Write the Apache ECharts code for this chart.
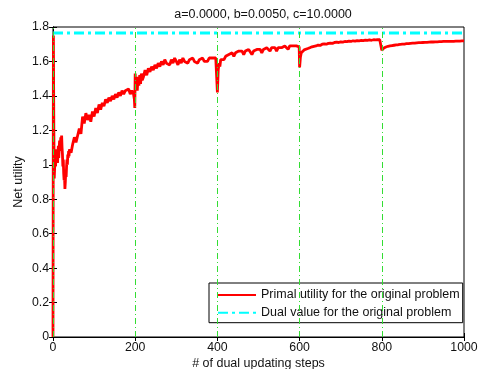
<!DOCTYPE html>
<html>
<head>
<meta charset="utf-8">
<script src="https://cdn.jsdelivr.net/npm/echarts@6/dist/echarts.min.js"></script>
<style>
  html, body { margin: 0; padding: 0; background: #fff; }
  #main { width: 479px; height: 369px; }
</style>
</head>
<body>
<div id="main"></div>
<script>
const titleText = "a=0.0000, b=0.0050, c=10.0000";
const xName = "# of dual updating steps";
const yName = "Net utility";
const primalName = "Primal utility for the original problem";
const dualName = "Dual value for the original problem";

// restart points of the dual update (green dash-dot lines)
const restartSteps = [0, 200, 400, 600, 800];
const dualValue = 1.765;
const dualSteps = [0, 1000];

// primal utility
const steps = [
  // 0 - 40
  0, 1, 2, 3, 4, 5, 6, 7, 8, 9,
  10, 11, 12, 13, 14, 15, 16, 17, 18, 19,
  20, 21, 22, 23, 24, 25, 26, 27, 28, 29,
  30, 31, 32, 33, 34, 35, 36, 37, 38, 39,
  40,
  // 44 - 217
  44, 48, 52, 56, 60, 64, 68, 72, 76, 80,
  84, 88, 92, 96, 100, 104, 108, 112, 116, 120,
  124, 128, 132, 136, 140, 144, 148, 152, 156, 160,
  164, 168, 172, 176, 180, 184, 188, 192, 196,
  198, 199, 200, 201, 203, 205, 207, 209, 211, 213, 215, 217,
  // 220 - 412
  220, 224, 228, 232, 236, 240, 244, 248, 252, 256,
  260, 264, 268, 272, 276, 280, 284, 288, 292, 296,
  300, 304, 308, 312, 316, 320, 324, 328, 332, 336,
  340, 344, 348, 352, 356, 360, 364, 368, 372, 376,
  380, 384, 388, 392, 396,
  399, 400, 402, 404, 406, 408, 410, 412,
  // 416 - 615
  416, 420, 424, 428, 432, 436, 440, 444, 448, 452,
  456, 460, 464, 468, 472, 476, 480, 484, 488, 492,
  496, 500, 504, 508, 512, 516, 520, 524, 528, 532,
  536, 540, 544, 548, 552, 556, 560, 564, 568, 572,
  576, 580, 584, 588, 592, 596,
  599, 600, 602, 604, 607, 611, 615,
  // 620 - 810
  620, 625, 630, 635, 640, 645, 650, 655, 660, 665,
  670, 675, 680, 685, 690, 695, 700, 705, 710, 715,
  720, 725, 730, 735, 740, 745, 750, 755, 760, 765,
  770, 775, 780, 785, 790, 795,
  799, 800, 802, 805, 810,
  // 815 - 1000
  815, 820, 825, 830, 835, 840, 845, 850, 855, 860,
  865, 870, 875, 880, 885, 890, 895, 900, 905, 910,
  915, 920, 925, 930, 935, 940, 945, 950, 955, 960,
  965, 970, 975, 980, 985, 990, 995, 1000
];

const primal = [
  // 0 - 40
  0, 1.75, 1.22, 0.92, 0.98, 1.05, 0.99, 1.03, 1.09, 1.02,
  1.07, 1.01, 1.06, 1.11, 1.04, 1.09, 1.14, 1.08, 1.12, 1.16,
  1.13, 1.17, 1.10, 1.06, 0.99, 1.03, 0.95, 0.91, 0.94, 0.86,
  0.90, 0.96, 0.93, 0.99, 1.03, 1.00, 1.06, 1.04, 1.08, 1.05,
  1.09,
  // 44 - 217
  1.07, 1.12, 1.16, 1.13, 1.17, 1.21, 1.18, 1.28, 1.24, 1.30,
  1.26, 1.29, 1.25, 1.31, 1.28, 1.33, 1.30, 1.35, 1.32, 1.36,
  1.34, 1.38, 1.36, 1.39, 1.37, 1.40, 1.38, 1.41, 1.39, 1.42,
  1.40, 1.43, 1.41, 1.43, 1.42, 1.44, 1.41, 1.43, 1.41,
  1.38, 1.33, 1.53, 1.45, 1.50, 1.43, 1.51, 1.46, 1.52, 1.47, 1.53, 1.49,
  // 220 - 412
  1.51, 1.55, 1.52, 1.56, 1.54, 1.57, 1.55, 1.58, 1.56, 1.59,
  1.57, 1.60, 1.58, 1.61, 1.59, 1.60, 1.58, 1.61, 1.59, 1.62,
  1.60, 1.58, 1.61, 1.59, 1.62, 1.60, 1.61, 1.59, 1.61, 1.60,
  1.62, 1.60, 1.61, 1.59, 1.61, 1.60, 1.62, 1.60, 1.61, 1.60,
  1.62, 1.61, 1.62, 1.61, 1.62,
  1.615, 1.42, 1.55, 1.59, 1.57, 1.61, 1.60, 1.62,
  // 416 - 615
  1.61, 1.63, 1.62, 1.64, 1.63, 1.65, 1.63, 1.65, 1.64, 1.66,
  1.65, 1.66, 1.64, 1.66, 1.65, 1.67, 1.66, 1.64, 1.66, 1.65,
  1.67, 1.66, 1.67, 1.65, 1.67, 1.66, 1.68, 1.67, 1.66, 1.68,
  1.67, 1.68, 1.66, 1.68, 1.67, 1.68, 1.67, 1.69, 1.68, 1.67,
  1.69, 1.68, 1.69, 1.68, 1.69, 1.685,
  1.685, 1.565, 1.625, 1.65, 1.66, 1.667, 1.672,
  // 620 - 810
  1.675, 1.68, 1.685, 1.688, 1.69, 1.695, 1.693, 1.70, 1.702, 1.70,
  1.705, 1.707, 1.705, 1.71, 1.712, 1.71, 1.714, 1.712, 1.716, 1.715,
  1.718, 1.716, 1.72, 1.718, 1.721, 1.72, 1.722, 1.721, 1.724, 1.722,
  1.725, 1.723, 1.726, 1.725, 1.727, 1.726,
  1.727, 1.665, 1.672, 1.678, 1.684,
  // 815 - 1000
  1.688, 1.69, 1.692, 1.694, 1.696, 1.697, 1.699, 1.70, 1.701, 1.703,
  1.703, 1.705, 1.706, 1.706, 1.708, 1.709, 1.709, 1.71, 1.711, 1.711,
  1.712, 1.713, 1.713, 1.714, 1.714, 1.715, 1.715, 1.716, 1.716, 1.716,
  1.717, 1.717, 1.717, 1.718, 1.718, 1.718, 1.719, 1.719
];

const font = "Liberation Sans, Arial, sans-serif";
const fs = 12.5;
const n = Math.min(steps.length, primal.length);
const primalData = [];
for (let i = 0; i < n; i++) primalData.push([steps[i], primal[i]]);
const dualData = dualSteps.map(s => [s, dualValue]);

const chart = echarts.init(document.getElementById("main"));

const axisCommon = {
  axisLine: { show: true, lineStyle: { color: "#000", width: 1 } },
  axisTick: { show: true, inside: true, length: 4, lineStyle: { color: "#000" } },
  splitLine: { show: false }
};

chart.setOption({
  animation: false,
  backgroundColor: "#fff",
  title: {
    text: titleText,
    left: 258,
    top: 3,
    textAlign: "center",
    textStyle: { fontSize: fs, fontWeight: "normal", color: "#111", fontFamily: font }
  },
  grid: {
    left: 53, right: 15, top: 27, bottom: 32,
    containLabel: false,
    outerBoundsMode: "none",
    show: true, borderColor: "#000", borderWidth: 1
  },
  legend: {
    left: 209, top: 283,
    orient: "vertical",
    padding: [5, 3, 3, 8],
    itemGap: 3.7,
    itemWidth: 38,
    itemHeight: 14,
    borderColor: "#000",
    borderWidth: 1,
    borderRadius: 0,
    backgroundColor: "#fff",
    itemStyle: { opacity: 0 },
    textStyle: { fontSize: fs, lineHeight: 14, color: "#111", fontFamily: font },
    data: [primalName, dualName]
  },
  xAxis: [
    Object.assign({}, axisCommon, {
      type: "value", min: 0, max: 1000, interval: 200,
      name: xName, nameLocation: "middle", nameGap: 20, nameMoveOverlap: false,
      nameTextStyle: { fontSize: fs, color: "#111", fontFamily: font },
      axisLabel: { color: "#111", fontSize: 12.3, margin: 5, fontFamily: font, formatter: v => String(v) }
    }),
    Object.assign({}, axisCommon, {
      type: "value", position: "top", min: 0, max: 1000, interval: 200,
      axisLabel: { show: false }
    })
  ],
  yAxis: [
    Object.assign({}, axisCommon, {
      type: "value", min: 0, max: 1.8, interval: 0.2,
      name: yName, nameLocation: "middle", nameGap: 28, nameMoveOverlap: false,
      nameTextStyle: { fontSize: fs, color: "#111", fontFamily: font },
      axisLabel: { color: "#111", fontSize: 12.3, margin: 4, fontFamily: font }
    }),
    Object.assign({}, axisCommon, {
      type: "value", position: "right", min: 0, max: 1.8, interval: 0.2,
      axisLabel: { show: false }
    })
  ],
  series: [
    {
      name: primalName,
      type: "line",
      data: primalData,
      showSymbol: false,
      symbol: "none",
      lineStyle: { color: "#ff0000", width: 2.8 },
      itemStyle: { color: "#ff0000" },
      markLine: {
        silent: true,
        symbol: ["none", "none"],
        label: { show: false },
        lineStyle: { color: "#33dd33", width: 1, type: [6, 3, 1, 3] },
        data: restartSteps.map(s => ({ xAxis: s }))
      }
    },
    {
      name: dualName,
      type: "line",
      data: dualData,
      showSymbol: false,
      symbol: "none",
      lineStyle: { color: "#00ffff", width: 3, type: [10, 4, 3, 4] },
      itemStyle: { color: "#00ffff" }
    }
  ]
});
</script>
</body>
</html>
